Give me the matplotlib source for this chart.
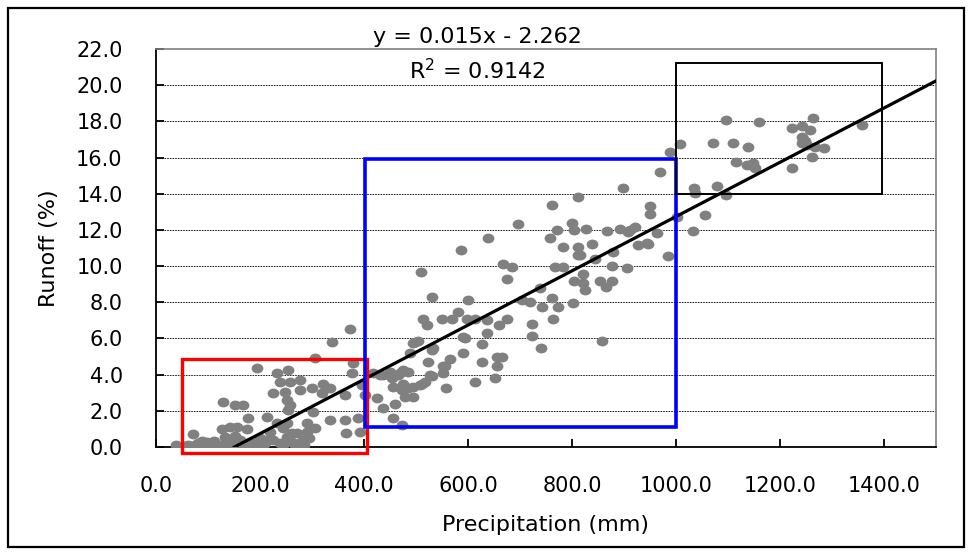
import numpy as np
import matplotlib
from matplotlib import pyplot as plt
from matplotlib.patches import Rectangle
from matplotlib.path import Path
from matplotlib.transforms import Affine2D

matplotlib.use('Agg')

# precipitation (mm) vs runoff (%)
precip = [38, 55, 62, 65, 71, 75, 80, 85, 88, 95, 98, 102, 108, 112, 118, 125, 127, 129, 133,
          135, 138, 142, 145, 148, 152, 152, 155, 158, 162, 165, 167, 170, 175, 177, 180, 186,
          190, 194, 200, 205, 210, 214, 215, 219, 225, 225, 232, 232, 238, 238, 244, 245, 248,
          251, 251, 251, 254, 254, 258, 258, 261, 262, 267, 271, 277, 277, 277, 283, 285, 290,
          290, 295, 300, 302, 306, 306, 319, 321, 335, 335, 338, 363, 363, 365, 373, 377, 379,
          388, 392, 396, 402,
          418, 425, 431, 437, 437, 450, 454, 456, 456, 460, 465, 469, 473, 473, 475, 475, 479,
          479, 485, 485, 488, 494, 494, 494, 498, 504, 508, 509, 511, 514, 517, 521, 523, 527,
          530, 530, 530, 533, 550, 552, 552, 556, 558, 565, 569, 581, 587, 590, 590, 594, 598,
          600, 613, 613, 627, 627, 637, 637, 638, 652, 656, 656, 660, 665, 668, 675, 675, 685,
          696, 704, 719, 723, 723, 738, 740, 742, 758, 761, 761, 763, 767, 771, 773, 783, 783,
          800, 802, 804, 804, 811, 811, 811, 815, 822, 822, 825, 827, 838, 844, 854, 857, 865,
          868, 877, 877, 879, 892, 898, 906, 908, 912, 921, 927, 944, 946, 950, 950, 963, 969,
          985, 988, 1002, 1008, 1033, 1035, 1037, 1056,
          1072, 1079, 1096, 1096, 1110, 1115, 1136, 1138, 1148, 1152, 1160, 1223, 1223, 1242,
          1242, 1242, 1245, 1248, 1252, 1258, 1262, 1263, 1267, 1285, 1358]
runoff = [0.1, 0.05, 0.1, 0.0, 0.7, 0.1, 0.2, 0.05, 0.35, 0.1, 0.3, 0.0, 0.15, 0.35, 0.05, 0.1, 1.0, 2.5, 0.55,
          0.2, 0.05, 1.1, 0.3, 0.1, 0.6, 2.3, 1.1, 0.05, 0.4, 0.15, 2.3, 0.1, 1.0, 1.6, 0.3, 0.1,
          0.2, 4.35, 0.5, 0.1, 0.2, 1.65, 0.4, 0.85, 3.0, 0.4, 4.1, 1.3, 3.6, 0.2, 1.05, 0.1, 3.05,
          2.6, 1.3, 0.55, 4.25, 2.05, 3.6, 2.3, 0.75, 0.3, 0.1, 0.75, 3.7, 3.15, 0.2, 0.4, 0.1, 1.3,
          0.85, 0.5, 3.25, 1.95, 4.9, 1.05, 3.0, 3.5, 3.25, 1.5, 5.8, 2.9, 1.5, 0.8, 6.5, 4.1, 4.65,
          1.6, 0.85, 3.45, 2.9,
          4.1, 2.7, 4.0, 2.15, 4.0, 4.15, 3.8, 3.3, 1.6, 2.4, 4.0, 4.1, 1.2, 3.15, 3.5, 4.25, 2.75,
          3.3, 4.15, 3.25, 5.2, 2.75, 3.3, 5.75, 5.8, 5.85, 3.4, 9.7, 3.5, 7.1, 3.6, 6.75, 4.7, 4.0,
          3.9, 5.35, 8.3, 5.5, 7.1, 4.1, 4.5, 4.5, 3.25, 4.85, 7.1, 7.45, 10.9, 5.2, 6.1, 6.05, 7.1,
          8.1, 7.1, 3.6, 5.7, 4.7, 6.3, 7.0, 11.55, 3.8, 5.0, 4.5, 6.75, 5.0, 10.1, 7.1, 9.3, 9.95,
          12.3, 8.1, 8.0, 6.8, 6.15, 8.8, 5.5, 7.75, 11.55, 8.25, 13.4, 7.1, 9.95, 12.0, 7.75, 9.95, 11.05,
          12.4, 7.95, 12.0, 9.2, 13.8, 11.05, 10.6, 10.6, 9.55, 9.05, 8.7, 12.05, 11.2, 10.4, 9.2, 5.85, 8.85,
          11.95, 9.2, 10.0, 10.8, 12.05, 14.3, 9.9, 11.9, 12.0, 12.15, 11.15, 11.3, 11.2, 13.3, 12.9, 11.85, 15.2,
          10.55, 16.3, 12.7, 16.75, 11.95, 14.3, 14.05, 12.8,
          16.8, 14.45, 13.95, 18.1, 16.8, 15.75, 15.6, 16.6, 15.7, 15.4, 17.95, 17.65, 15.4, 17.75,
          17.15, 16.8, 17.0, 16.9, 16.7, 17.5, 16.05, 18.2, 16.6, 16.55, 17.8]

fit_slope = 0.015
fit_intercept = -2.262
fit_r2 = 0.9142

# boxes: (x0, x1, y0, y1) in data units
box_low = (50, 405, -0.35, 4.85)
box_mid = (402, 1000, 1.1, 15.9)
box_high = (1000, 1397, 14.0, 21.2)

x_ticks = np.arange(0, 1401, 200)
y_ticks = np.arange(0, 22.1, 2)

plt.rcParams['font.family'] = ['DejaVu Sans']

fig = plt.figure(figsize=(9.73, 5.55), dpi=100)
ax = fig.add_axes([156 / 973, 1 - 447 / 555, 780 / 973, 398 / 555])

# stretched circle, the source picture is wider than tall
ellipse = Path.unit_circle().transformed(Affine2D().scale(1.2, 1.0))
ax.scatter(precip, runoff, s=72, marker=ellipse, color='#808080', linewidths=0, zorder=3)

x_fit = np.array([-fit_intercept / fit_slope, 1500])
ax.plot(x_fit, fit_slope * x_fit + fit_intercept, color='black', lw=2.3, zorder=4)

for (x0, x1, y0, y1), col, lw in [(box_low, 'red', 2.4), (box_mid, 'blue', 2.6), (box_high, 'black', 1.4)]:
    ax.add_patch(Rectangle((x0, y0), x1 - x0, y1 - y0, fill=False, edgecolor=col,
                           lw=lw, clip_on=False, zorder=5))

ax.set_xlim(0, 1500)
ax.set_ylim(0, 22)
ax.set_xticks(x_ticks)
ax.set_yticks(y_ticks)
ax.set_xticklabels([f'{v:.1f}' for v in x_ticks])
ax.set_yticklabels([f'{v:.1f}' for v in y_ticks])
ax.tick_params(direction='in', length=6, width=1.3, labelsize=15, colors='black')
ax.tick_params(axis='x', pad=21)
ax.tick_params(axis='y', pad=24)

for v in y_ticks[1:-1]:
    ax.axhline(v, color='black', lw=0.6, ls=(0, (2, 1.2)), zorder=1)

for side in ['left', 'bottom']:
    ax.spines[side].set_color('black')
    ax.spines[side].set_linewidth(1.3)
for side in ['top', 'right']:
    ax.spines[side].set_color('#808080')
    ax.spines[side].set_linewidth(1.2)

ax.set_xlabel('Precipitation (mm)', fontsize=16)
ax.set_ylabel('Runoff (%)', fontsize=16)
ax.xaxis.set_label_coords(0.5, -0.17)
ax.yaxis.set_label_coords(-0.125, 0.5)

ax.text(0.412, 1.03, f'y = {fit_slope}x - {-fit_intercept}', transform=ax.transAxes,
        ha='center', va='center', fontsize=16)
ax.text(0.412, 0.945, f'R$^{{2}}$ = {fit_r2}', transform=ax.transAxes,
        ha='center', va='center', fontsize=16)

fig.patches.append(Rectangle((8 / 973, 8 / 555), 956 / 973, 539 / 555, transform=fig.transFigure,
                             fill=False, edgecolor='black', lw=1.6))

fig.savefig('out.png', dpi=100)
